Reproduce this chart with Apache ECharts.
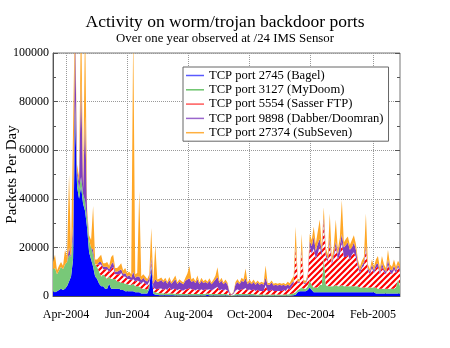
<!DOCTYPE html>
<html><head><meta charset="utf-8">
<script src="https://cdn.jsdelivr.net/npm/echarts@6/dist/echarts.min.js"></script>
<style>html,body{margin:0;padding:0;background:#fff}#c{width:450px;height:348px}</style>
</head><body><div id="c"></div>
<script>
// one sample every 2 days starting 2004-03-19 (day -13 relative to 2004-04-01)
const firstDate = Date.UTC(2004, 2, 19);
const firstDay = -13;
const dayStep = 2;
const seriesNames = ['TCP port 2745 (Bagel)','TCP port 3127 (MyDoom)','TCP port 5554 (Sasser FTP)','TCP port 9898 (Dabber/Doomran)','TCP port 27374 (SubSeven)'];
const monthTickDays = [0, 61, 122, 183, 244, 306];
const monthTickLabels = ['Apr-2004','Jun-2004','Aug-2004','Oct-2004','Dec-2004','Feb-2005'];

const bagel = [
2000,1500,2000,2500,3000,2500,3000,4000,6000,8000,
15000,75000,45000,40000,45000,38000,35000,28000,18000,15000,
12000,8000,7000,5000,4000,4000,3000,3000,5000,3000,
3000,3000,3000,3000,2500,2500,2000,2000,2000,2000,
2000,1500,1500,1500,1000,1000,1000,1000,3000,12000,
1000,500,500,300,300,300,300,300,300,300,
300,200,200,200,200,200,200,200,200,200,
200,200,200,200,200,200,200,500,200,200,
200,200,200,200,200,200,200,200,100,0,
100,200,200,200,200,200,200,200,200,200,
200,100,100,100,100,100,100,100,100,100,
100,100,100,100,100,100,100,100,100,200,
300,500,1500,2000,2000,2000,2000,2500,3500,2500,
1500,1500,1500,1500,1500,1500,1500,1500,1500,1500,
1500,1500,1500,1500,1500,1500,1500,1500,1500,1500,
1500,1500,1500,1500,1500,1500,1500,1500,1500,1500,
1500,1000,1000,1000,1000,1000,1000,1000,1000,1000,
1000,1000,1000,1000];
const myDoom = [
9000,10000,7000,8000,9000,8500,10000,10000,11000,8000,
9000,5000,5000,4000,4000,4000,4000,4000,5000,5000,
5000,5000,5000,5000,4000,5000,5000,4000,3000,4000,
4000,4000,3000,3000,3000,3000,3000,3000,2500,2500,
3000,2500,2500,2500,2000,2000,2000,1500,1500,1000,
1000,1000,800,800,800,800,700,700,800,700,
700,700,700,700,700,600,600,600,600,600,
600,600,700,600,600,600,600,600,600,600,
600,600,600,600,600,600,600,500,300,200,
300,600,600,600,600,600,600,600,600,600,
600,500,500,500,500,500,500,500,500,500,
500,500,500,500,500,500,500,600,600,700,
800,1000,1000,1000,1500,1000,1000,1500,3000,2000,
2000,2000,2000,3000,3000,15000,3000,2500,2500,2500,
2500,3000,2500,2500,3000,2500,2500,2500,2500,2500,
2500,2500,2500,2000,2000,2000,2000,2000,2000,2000,
2000,2500,2000,2000,2000,2000,2000,2000,2000,2000,
2000,2500,6000,3000];
const sasserFtp = [
0,0,0,0,0,0,0,0,0,0,
0,0,0,0,0,0,0,0,0,0,
0,0,1000,3000,5000,2000,3000,4000,2000,4000,
5000,2000,3000,3000,4000,2500,3000,2000,2500,2000,
2000,2000,2500,2000,2000,3000,2000,2000,1500,1000,
1500,1500,1500,2000,2000,1500,2000,1500,2500,1500,
2000,2000,1500,2000,1500,1500,2000,2000,2500,2000,
2000,1500,2000,1500,2000,1500,2000,1500,2000,1500,
2000,2500,3000,1500,2000,1500,2000,1500,500,200,
500,1500,2000,1500,2000,2000,2500,1500,2000,1500,
2000,1500,2000,1500,1500,1500,4000,1500,1500,2000,
1500,1500,1500,1500,1500,2000,1500,2500,2000,3000,
4000,18000,3000,2500,15000,2000,2000,3000,14000,13000,
16000,12000,14000,16000,12000,14000,12000,10000,18000,9000,
12000,16000,11000,13000,18000,12000,12000,13000,11000,13000,
14000,12000,8000,6000,8000,9000,16000,7000,5500,8000,
6000,8000,9000,6000,9000,7000,6000,10000,7000,6000,
8000,6000,5000,6000];
const dabber = [
0,0,0,0,0,0,0,0,3000,0,
5000,30000,2000,3000,40000,2000,35000,2000,0,0,
2000,0,0,1000,1000,1000,1000,1000,1000,2000,
2000,1000,1000,1500,1500,1000,1500,1000,1500,1000,
3000,1500,1500,2000,1500,1500,1500,1500,1500,2000,
1500,4000,3000,3000,3500,3000,3500,2500,3000,2500,
3000,4000,2500,3000,3000,2500,3500,4000,4000,3000,
3500,3000,4000,2500,3500,3000,3000,2500,3500,2500,
3000,3500,4000,3000,3500,2500,3000,2500,500,200,
500,2500,3000,2500,3500,3000,4000,2500,3000,2500,
3000,2500,3000,2500,3000,2500,3000,2500,2500,3000,
2200,2500,2200,2500,2200,2000,2000,1500,1500,1500,
1000,1000,500,500,1000,500,500,1000,2000,3000,
5000,3000,4000,3000,2000,2000,1500,1000,2000,1000,
1500,2000,2000,4000,3000,4000,5000,5000,4000,3000,
4000,3000,1500,1000,1000,1500,1500,1000,1000,1500,
1000,1500,1500,1000,1500,1000,1000,2000,1000,1500,
1500,1000,1000,1000];
const subSeven = [
3000,5500,1500,2000,2000,1500,6000,2000,30000,2000,
40000,10000,2000,2000,30000,2000,40000,2000,2000,3000,
18000,2000,2000,2000,3000,1500,1500,2000,1500,3000,
3000,1500,1500,2000,2500,1500,2000,1500,1500,1500,
100000,1500,1500,35000,1500,1500,1500,1000,1500,12000,
1000,14000,1000,1000,1000,800,1000,800,1200,800,
1000,1500,800,1000,800,800,1200,2500,5000,1000,
1200,800,1500,800,1200,800,1000,800,1000,800,
1000,1500,4000,800,1200,800,1000,800,300,100,
300,1000,1200,800,1200,1000,4000,800,1000,800,
1000,700,800,700,800,700,5000,700,800,800,
700,800,700,800,700,800,700,1200,1000,1500,
2000,8000,1000,1000,6000,1000,800,1000,3000,2500,
4000,3000,5000,8000,2000,4000,2000,2000,10000,1500,
3000,9000,2000,3000,14000,2000,2500,2500,2000,3000,
3000,2500,1500,1500,2000,2000,13000,1500,1000,2000,
1500,2000,3000,1500,3000,2000,1500,4000,2000,1500,
2500,1500,1500,2000];

const fillColors = ['#0000ff','#78c878','#ff0000','#7f3fbf','#ffa726'];
const legendColors = ['#5a5aff','#6cc46c','#ff5a5a','#9a66cc','#ffb040'];
const valueSets = [bagel, myDoom, sasserFtp, dabber, subSeven];
const DAY = 86400000;

// red / white "/" hatch tile for the Sasser FTP area
function makeHatch() {
  const s = 6;
  const c = document.createElement('canvas');
  c.width = s; c.height = s;
  const g = c.getContext('2d');
  g.fillStyle = '#ff0000';
  g.fillRect(0, 0, s, s);
  g.strokeStyle = '#ffffff';
  g.lineWidth = 2;
  g.beginPath();
  for (const off of [-s, 0, s]) {
    g.moveTo(off - 1, s + 1);
    g.lineTo(off + s + 1, -1);
  }
  g.stroke();
  return c;
}
const hatch = {image: makeHatch(), repeat: 'repeat'};

// category labels: the sample dates
const sampleDates = bagel.map((_, k) => new Date(firstDate + k * dayStep * DAY).toISOString().slice(0, 10));
const lastDay = firstDay + (bagel.length - 1) * dayStep;

// minor x ticks: 5 subdivisions between labelled months
const minorTickDays = [];
const majors = [-61].concat(monthTickDays, [368]);
for (let i = 0; i < majors.length - 1; i++) {
  const a = majors[i], b = majors[i+1];
  for (let j = 1; j < 5; j++) {
    const v = a + (b - a) * j / 5;
    if (v > firstDay && v < lastDay) minorTickDays.push(v);
  }
}

const serif = 'Liberation Serif';
const chart = echarts.init(document.getElementById('c'), null, {renderer: 'canvas'});
const series = valueSets.map((vals, i) => ({
  name: seriesNames[i],
  type: 'line',
  stack: 'total',
  xAxisIndex: 0, yAxisIndex: 0,
  data: vals,
  showSymbol: false, symbol: 'none',
  lineStyle: {width: 0},
  itemStyle: {color: fillColors[i]},
  areaStyle: {color: i === 2 ? hatch : fillColors[i], opacity: 1},
  animation: false
}));

chart.setOption({
  animation: false,
  backgroundColor: '#fff',
  title: [
    {text: 'Activity on worm/trojan backdoor ports', left: 'center', top: 13, padding: 0,
     textStyle: {fontFamily: serif, fontSize: 17.5, fontWeight: 'normal', color: '#000'}},
    {text: 'Over one year observed at /24 IMS Sensor', left: 'center', top: 32, padding: 0,
     textStyle: {fontFamily: serif, fontSize: 12.8, fontWeight: 'normal', color: '#000'}}
  ],
  legend: {
    orient: 'vertical', left: 183, top: 67,
    itemWidth: 18, itemHeight: 1.5, itemGap: 1.3,
    padding: [2, 5, 2, 3],
    backgroundColor: '#fff', borderColor: '#666', borderWidth: 1, borderRadius: 0,
    icon: 'rect',
    textStyle: {fontFamily: serif, fontSize: 12.6, color: '#000', lineHeight: 13},
    data: seriesNames.map((n, i) => ({name: n, itemStyle: {color: legendColors[i]}}))
  },
  grid: {left: 53, right: 50, top: 53, bottom: 52, show: true, borderColor: '#777', borderWidth: 1, containLabel: false, outerBoundsMode: 'none'},
  xAxis: [{
    type: 'category', data: sampleDates, boundaryGap: false, show: false,
    axisLine: {show: false}, axisTick: {show: false}, axisLabel: {show: false}, splitLine: {show: false}
  }, {
    type: 'value', min: firstDay, max: lastDay, position: 'bottom',
    axisLine: {show: true, onZero: false, lineStyle: {color: '#555'}},
    axisTick: {show: true, inside: true, length: 5, customValues: monthTickDays, lineStyle: {color: '#555'}},
    axisLabel: {customValues: monthTickDays, margin: 13, fontFamily: serif, fontSize: 12, color: '#000',
      formatter: v => monthTickLabels[monthTickDays.indexOf(v)] || ''},
    splitLine: {show: true, lineStyle: {type: 'dotted', color: '#999', width: 1}}
  }, {
    type: 'value', min: firstDay, max: lastDay, position: 'bottom',
    axisLine: {show: false, onZero: false},
    axisTick: {show: true, inside: true, length: 3, customValues: minorTickDays, lineStyle: {color: '#555'}},
    axisLabel: {show: false},
    splitLine: {show: false}
  }],
  yAxis: [{
    type: 'value', min: 0, max: 100000, interval: 20000,
    name: 'Packets Per Day', nameLocation: 'middle', nameGap: 33, nameRotate: 90, nameMoveOverlap: false,
    nameTextStyle: {fontFamily: serif, fontSize: 15, color: '#000'},
    axisLine: {show: true, onZero: false, lineStyle: {color: '#555'}},
    axisTick: {show: true, inside: true, length: 5, lineStyle: {color: '#555'}},
    minorTick: {show: true, splitNumber: 2, length: 3, lineStyle: {color: '#555'}},
    axisLabel: {margin: 4, fontFamily: serif, fontSize: 12, color: '#000', formatter: v => String(v)},
    splitLine: {show: true, lineStyle: {type: 'dotted', color: '#999', width: 1}}
  }, {
    type: 'value', min: 0, max: 100000, interval: 20000, position: 'right',
    axisLine: {show: false, onZero: false},
    axisTick: {show: true, inside: true, length: 5, lineStyle: {color: '#555'}},
    minorTick: {show: true, splitNumber: 2, length: 3, lineStyle: {color: '#555'}},
    axisLabel: {show: false},
    splitLine: {show: false}
  }],
  series: series
});
</script></body></html>
